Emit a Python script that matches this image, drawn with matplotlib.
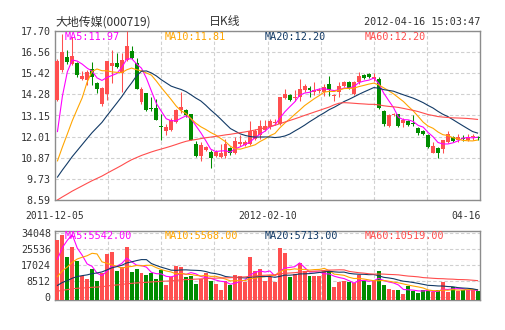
import numpy as np
import pandas as pd
import matplotlib
matplotlib.use("Agg")
import matplotlib.pyplot as plt

W, H, DPI = 505, 330, 100

# ---------------- data ----------------
opens = [14.0, 15.6, 16.3, 15.9, 15.96, 15.1, 15.06, 15.64, 14.87, 13.79,
         14.33, 15.84, 16.0, 15.42, 16.14, 16.6, 16.0, 13.88, 14.37, 13.57,
         13.57, 12.6, 12.3, 12.36, 12.8, 13.43, 13.43, 13.2, 11.6, 10.95,
         11.3, 11.2, 10.95, 10.9, 10.95, 11.4, 11.1, 11.6, 11.55, 11.63,
         11.9, 12.1, 12.37, 12.55, 12.75, 12.7, 14.1, 14.25, 14.1, 14.15,
         14.5, 14.65, 14.4, 14.45, 14.4, 14.85, 14.2, 14.4, 14.75, 14.95,
         14.3, 14.95, 15.35, 15.4, 15.1, 15.1, 13.4, 12.6, 13.15, 13.2,
         12.75, 12.85, 12.75, 12.45, 12.3, 12.1, 11.15, 11.4, 11.35, 11.7,
         12.0, 11.8, 11.95, 11.85, 12.0, 12.0]
highs = [16.2, 17.55, 16.7, 17.35, 16.05, 15.56, 15.6, 16.05, 14.96, 14.7,
         16.07, 16.65, 16.5, 16.54, 17.70, 16.9, 16.23, 14.7, 14.37, 14.12,
         14.06, 13.2, 12.7, 13.0, 13.5, 14.4, 13.5, 13.25, 11.75, 11.7,
         11.5, 11.3, 11.28, 11.62, 11.9, 11.45, 12.0, 12.1, 11.8, 12.85,
         12.4, 12.9, 12.9, 12.95, 12.95, 14.15, 14.6, 14.33, 14.5, 15.1,
         14.85, 14.75, 14.95, 14.65, 14.85, 15.3, 14.3, 14.95, 15.0, 15.0,
         15.0, 15.5, 15.4, 15.45, 15.45, 15.2, 13.45, 13.2, 13.3, 13.25,
         13.0, 12.9, 13.15, 12.5, 12.35, 12.15, 11.7, 11.45, 11.85, 12.3,
         12.05, 12.15, 12.1, 12.15, 12.15, 12.05]
lows = [13.95, 15.5, 15.9, 15.85, 15.2, 15.05, 14.8, 14.8, 14.37, 13.65,
        13.97, 14.9, 15.69, 14.42, 16.1, 16.18, 14.6, 13.79, 13.39, 13.39,
        12.89, 11.8, 12.1, 12.3, 12.72, 13.3, 13.07, 11.83, 10.9, 10.7,
        11.25, 10.3, 10.9, 10.85, 10.87, 11.0, 11.05, 11.5, 11.5, 11.58,
        11.85, 11.9, 12.3, 12.4, 12.65, 12.65, 14.05, 13.92, 13.95, 13.95,
        14.4, 14.15, 14.25, 14.35, 14.2, 14.2, 13.95, 14.15, 14.7, 14.6,
        14.25, 14.85, 15.1, 15.15, 15.0, 13.5, 12.6, 12.5, 13.1, 12.55,
        12.5, 12.6, 12.6, 12.1, 12.1, 11.4, 11.1, 10.85, 11.1, 11.65,
        11.7, 11.7, 11.75, 11.75, 11.8, 11.85]
closes = [16.1, 16.56, 16.05, 16.36, 15.33, 15.28, 15.47, 15.24, 14.55, 14.64,
          16.07, 16.0, 15.78, 16.14, 16.9, 16.23, 14.6, 14.6, 13.43, 13.47,
          12.9, 12.5, 12.55, 12.9, 13.43, 13.6, 13.15, 11.85, 10.95, 11.55,
          11.47, 10.84, 11.2, 11.1, 11.62, 11.1, 11.75, 11.73, 11.73, 12.3,
          12.3, 12.6, 12.6, 12.85, 12.8, 14.15, 14.3, 13.97, 14.15, 14.6,
          14.75, 14.5, 14.5, 14.5, 14.68, 14.5, 14.25, 14.75, 14.95, 14.65,
          14.95, 15.3, 15.15, 15.2, 15.2, 13.55, 12.7, 13.15, 13.25, 12.6,
          12.9, 12.65, 12.7, 12.2, 12.15, 11.45, 11.5, 11.15, 11.8, 12.15,
          11.75, 12.0, 11.9, 12.0, 12.05, 11.92]
volumes = [30250, 32960, 21400, 26820, 19230, 10930, 9660, 14900, 8580, 12550,
           22670, 24110, 14000, 15800, 26820, 13270, 14900, 12730, 11650, 12910,
           9660, 14180, 6230, 10380, 16530, 15980, 10570, 11290, 6950, 9660,
           12910, 8580, 6770, 3520, 8220, 6410, 11650, 11110, 7680, 21400,
           13630, 15080, 8580, 10380, 7860, 26280, 23570, 10570, 12190, 18150,
           14000, 11290, 11290, 11290, 13630, 13630, 5150, 7680, 8580, 7860,
           7310, 11830, 8220, 6410, 9120, 13630, 6410, 4060, 3700, 3700,
           1540, 5510, 3160, 1720, 3340, 3160, 2620, 3340, 7680, 2620,
           4970, 2800, 3700, 3520, 3700, 2800]
# sessions before the visible window (implied by where the MA lines start)
prior_closes = [6.7, 6.8, 6.8, 6.9, 6.9, 7.0, 7.0, 7.1, 7.1, 7.2, 7.3, 7.3, 7.4,
                7.5, 7.6, 7.6, 7.7, 7.8, 7.8, 7.9, 8.0, 8.0, 8.1, 8.2, 8.2, 8.3,
                8.4, 8.5, 8.6,
                8.7, 8.8, 8.8, 8.9, 9.0, 9.1, 9.1, 9.2, 9.2, 9.3, 9.3,
                8.9, 8.9, 9.0, 8.9, 8.8, 9.0, 8.9, 9.0, 9.1, 9.0,
                9.1, 9.0, 9.2, 9.1, 9.2,
                7.0, 9.5, 13.2, 15.6]
prior_volumes = [1300, 1500, 1200, 1400, 1600, 1300, 1100, 1400, 1500, 1300,
                 1200, 1600, 1400, 1300, 1500, 1200, 1400, 1700, 1300, 1200,
                 1500, 1400, 1300, 1600, 1200, 1400, 1500, 1300, 1100, 1400,
                 1600, 1300, 1200, 1500, 1400, 1300, 1500, 1200, 1400, 1600,
                 1300, 1400, 1200, 1500, 1300, 1400, 1600, 1300, 1200, 1500,
                 1400, 1300, 1500, 1400, 1600,
                 1500, 1800, 12000, 55000]

price_ticks = ["8.59", "9.73", "10.87", "12.01", "13.15", "14.28", "15.42", "16.56", "17.70"]
vol_ticks = ["0", "8512", "17024", "25536", "34048"]
date_labels = ["2011-12-05", "2012-02-10", "04-16"]
ma_periods = [5, 10, 20, 60]
price_ma_text = ["MA5:11.97", "MA10:11.81", "MA20:12.20", "MA60:12.20"]
vol_ma_text = ["MA5:5542.00", "MA10:5568.00", "MA20:5713.00", "MA60:10519.00"]
title_left = "大地传媒(000719)"
title_mid = "日K线"
title_right = "2012-04-16 15:03:47"

# ---------------- style ----------------
RED = "#FF4F4F"
GREEN = "#008C00"
MA_COLORS = ["#FF00FF", "#FFA500", "#123A66", "#FF4D4D"]
FRAME = "#8C8C8C"
GRID = "#D0D0D0"
TXT = "#333333"
MONO = "DejaVu Sans Mono"
CJK = ["Noto Sans CJK SC", "DejaVu Sans"]

O = np.array(opens); Hh = np.array(highs); L = np.array(lows); C = np.array(closes)
V = np.array(volumes, dtype=float)
n = len(C)
x = np.arange(n)
up = C >= O
cols = np.where(up, RED, GREEN)

close_all = pd.Series(prior_closes + closes, dtype=float)
vol_all = pd.Series(prior_volumes + volumes, dtype=float)
k0 = len(prior_closes)
price_ma = [close_all.rolling(p).mean().iloc[k0:].to_numpy() for p in ma_periods]
vol_ma = [vol_all.rolling(p).mean().iloc[len(prior_volumes):].to_numpy() for p in ma_periods]

fig = plt.figure(figsize=(W / DPI, H / DPI), dpi=DPI)
fig.patch.set_facecolor("white")


def px_axes(l, t, r, b):
    return fig.add_axes([l / W, 1 - b / H, (r - l) / W, (b - t) / H])


def ftext(xp, yp, s, **kw):
    fig.text(xp / W, 1 - yp / H, s, **kw)


def style(ax):
    for sp in ax.spines.values():
        sp.set_color(FRAME)
        sp.set_linewidth(1.0)
    ax.tick_params(axis="both", length=0)
    ax.tick_params(axis="y", pad=3, labelsize=7.2, labelcolor=TXT)
    ax.set_xticks(np.linspace(-0.5, n - 0.5, 9)[1:-1])
    ax.set_xticklabels([])
    ax.grid(True, color=GRID, linestyle=(0, (3, 2)), linewidth=0.8)
    ax.set_axisbelow(True)
    ax.set_xlim(-0.5, n - 0.5)
    for lab in ax.get_yticklabels():
        lab.set_family(MONO)


# ---------------- price panel ----------------
axp = px_axes(55, 31, 480, 200)
plo, phi = float(price_ticks[0]), float(price_ticks[-1])
axp.set_ylim(plo, phi)
axp.set_yticks(np.linspace(plo, phi, len(price_ticks)))
axp.set_yticklabels(price_ticks)
style(axp)
axp.vlines(x, L, Hh, colors=cols, linewidth=0.75, zorder=3)
axp.bar(x, np.maximum(np.abs(C - O), 0.03), bottom=np.minimum(O, C), width=0.8,
        color=cols, linewidth=0, zorder=3)
for ma, c in zip(price_ma, MA_COLORS):
    axp.plot(x, ma, color=c, linewidth=0.8, zorder=4)

# ---------------- volume panel ----------------
axv = px_axes(55, 230.7, 480, 300.3)
v0_px, vtop_px = 296.7, 233.3
per_px = float(vol_ticks[-1]) / (v0_px - vtop_px)
vlo = -(300.3 - v0_px) * per_px
vhi = float(vol_ticks[-1]) + (vtop_px - 230.7) * per_px
axv.set_ylim(vlo, vhi)
axv.set_yticks([float(v) for v in vol_ticks])
axv.set_yticklabels(vol_ticks)
style(axv)
axv.bar(x, V - vlo, bottom=vlo, width=0.8, color=cols, linewidth=0, zorder=3)
for ma, c in zip(vol_ma, MA_COLORS):
    axv.plot(x, ma, color=c, linewidth=0.8, zorder=4)

# ---------------- texts ----------------
ftext(55, 22, title_left, family=CJK, fontsize=8.6, color=TXT, ha="left", va="center")
ftext(225, 22, title_mid, family=CJK, fontsize=8.6, color=TXT, ha="center", va="center")
ftext(480, 22, title_right, family=MONO, fontsize=7.3, color=TXT, ha="right", va="center")

for j, (s, c) in enumerate(zip(price_ma_text, MA_COLORS)):
    ftext(65 + 100 * j, 36.5, s, family=MONO, fontsize=7.3, color=c, ha="left", va="center")
for j, (s, c) in enumerate(zip(vol_ma_text, MA_COLORS)):
    ftext(65 + 100 * j, 236, s, family=MONO, fontsize=7.3, color=c, ha="left", va="center")

ftext(55, 216, date_labels[0], family=MONO, fontsize=7.0, color=TXT, ha="center", va="center")
ftext(267.5, 216, date_labels[1], family=MONO, fontsize=7.0, color=TXT, ha="center", va="center")
ftext(481, 216, date_labels[2], family=MONO, fontsize=7.0, color=TXT, ha="right", va="center")

fig.savefig("out.png", dpi=DPI, facecolor="white")
